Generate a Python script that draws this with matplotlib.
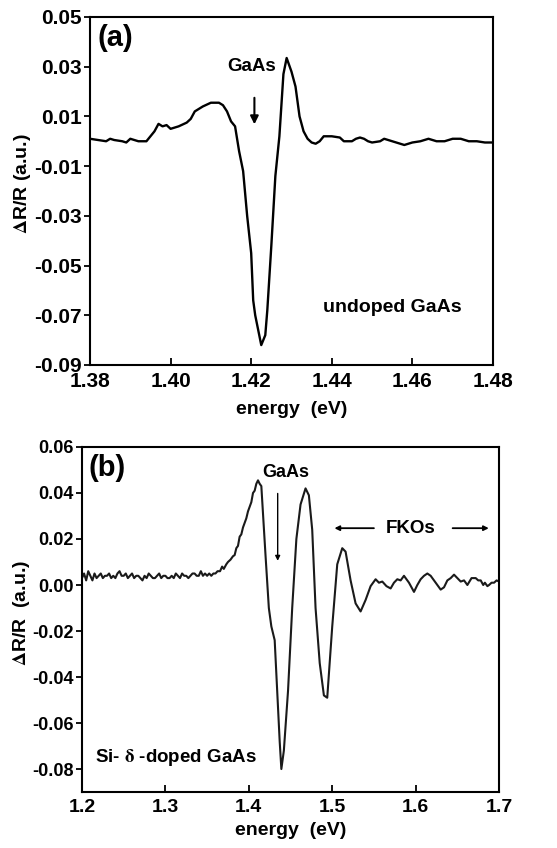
import numpy as np
import matplotlib.pyplot as plt

plt.rcParams['font.family'] = ['Liberation Sans', 'DejaVu Sans']
plt.rcParams['font.weight'] = 'bold'
plt.rcParams['mathtext.fontset'] = 'stix'

# panel (a): undoped GaAs
energy_a = [1.380, 1.382, 1.384, 1.385, 1.386, 1.388, 1.389, 1.390, 1.392, 1.394,
            1.395, 1.396, 1.397, 1.398, 1.399, 1.400, 1.402, 1.404, 1.405, 1.406,
            1.408, 1.410, 1.412, 1.413, 1.414, 1.415, 1.416, 1.417, 1.418, 1.419,
            1.420, 1.4205, 1.421, 1.422, 1.4225, 1.4235, 1.424, 1.425, 1.426, 1.427,
            1.428, 1.4288, 1.430, 1.431, 1.432, 1.433, 1.434, 1.435, 1.436, 1.437,
            1.438, 1.440, 1.442, 1.443, 1.445, 1.446, 1.447, 1.448, 1.449, 1.450,
            1.452, 1.453, 1.455, 1.456, 1.458, 1.460, 1.462, 1.464, 1.466, 1.468,
            1.470, 1.472, 1.474, 1.476, 1.478, 1.480]
dr_a = [0.001, 0.0005, 0.000, 0.001, 0.0005, 0.000, -0.0005, 0.001, 0.000, 0.000,
        0.002, 0.004, 0.007, 0.006, 0.0065, 0.005, 0.006, 0.0075, 0.009, 0.012,
        0.014, 0.0155, 0.0155, 0.0145, 0.012, 0.008, 0.006, -0.004, -0.012, -0.030,
        -0.045, -0.064, -0.070, -0.078, -0.0820, -0.078, -0.068, -0.042, -0.014, 0.002,
        0.027, 0.0335, 0.028, 0.022, 0.010, 0.004, 0.001, -0.0005, -0.001, 0.000,
        0.002, 0.002, 0.0015, 0.000, 0.000, 0.001, 0.0015, 0.001, 0.000, -0.0005,
        0.000, 0.001, 0.000, -0.0005, -0.0015, -0.0005, 0.000, 0.001, 0.000, 0.000,
        0.001, 0.001, 0.000, 0.000, -0.0005, -0.0005]

# panel (b): Si-delta-doped GaAs
energy_b = [1.2000, 1.2025, 1.2050, 1.2075, 1.2100, 1.2125, 1.2150, 1.2175, 1.2200, 1.2225,
            1.2250, 1.2275, 1.2300, 1.2325, 1.2350, 1.2375, 1.2400, 1.2425, 1.2450, 1.2475,
            1.2500, 1.2525, 1.2550, 1.2575, 1.2600, 1.2625, 1.2650, 1.2675, 1.2700, 1.2725,
            1.2750, 1.2775, 1.2800, 1.2825, 1.2850, 1.2875, 1.2900, 1.2925, 1.2950, 1.2975,
            1.3000, 1.3025, 1.3050, 1.3075, 1.3100, 1.3125, 1.3150, 1.3175, 1.3200, 1.3225,
            1.3250, 1.3275, 1.3300, 1.3325, 1.3350, 1.3375, 1.3400, 1.3425, 1.3450, 1.3475,
            1.3500, 1.3525, 1.3550, 1.3575, 1.3600, 1.3625, 1.3655, 1.368, 1.370, 1.373,
            1.375, 1.378, 1.381, 1.383, 1.385, 1.387, 1.389, 1.391, 1.393, 1.395,
            1.397, 1.399, 1.401, 1.403, 1.405, 1.407, 1.409, 1.411, 1.413, 1.415,
            1.420, 1.424, 1.427, 1.431, 1.434, 1.437, 1.439, 1.442, 1.447, 1.452,
            1.457, 1.462, 1.468, 1.472, 1.476, 1.480, 1.485, 1.490, 1.494, 1.500,
            1.506, 1.512, 1.516, 1.522, 1.528, 1.534, 1.540, 1.546, 1.552, 1.556,
            1.560, 1.565, 1.570, 1.574, 1.578, 1.582, 1.586, 1.592, 1.598, 1.602,
            1.606, 1.610, 1.614, 1.618, 1.622, 1.626, 1.630, 1.634, 1.638, 1.642,
            1.646, 1.650, 1.654, 1.658, 1.662, 1.667, 1.672, 1.675, 1.678, 1.681,
            1.683, 1.686, 1.688, 1.691, 1.694, 1.697, 1.700]
dr_b = [0.003, 0.005, 0.002, 0.006, 0.004, 0.002, 0.005, 0.003, 0.004, 0.005,
        0.003, 0.004, 0.004, 0.005, 0.003, 0.004, 0.003, 0.005, 0.006, 0.004,
        0.004, 0.005, 0.003, 0.004, 0.005, 0.003, 0.004, 0.004, 0.003, 0.002,
        0.004, 0.003, 0.005, 0.004, 0.003, 0.003, 0.004, 0.005, 0.003, 0.004,
        0.004, 0.003, 0.003, 0.004, 0.003, 0.005, 0.004, 0.003, 0.005, 0.004,
        0.004, 0.003, 0.004, 0.005, 0.005, 0.004, 0.004, 0.006, 0.004, 0.005,
        0.004, 0.005, 0.004, 0.005, 0.005, 0.006, 0.006, 0.008, 0.007, 0.009,
        0.010, 0.011, 0.0125, 0.013, 0.016, 0.017, 0.021, 0.022, 0.025, 0.027,
        0.029, 0.032, 0.034, 0.036, 0.040, 0.041, 0.044, 0.0455, 0.044, 0.043,
        0.013, -0.010, -0.018, -0.024, -0.046, -0.068, -0.080, -0.072, -0.046, -0.010,
        0.020, 0.035, 0.042, 0.039, 0.024, -0.010, -0.034, -0.048, -0.049, -0.018,
        0.009, 0.016, 0.0145, 0.002, -0.008, -0.0115, -0.0065, -0.0005, 0.0025, 0.001,
        0.0015, -0.0005, -0.0015, 0.001, 0.0025, 0.002, 0.004, 0.001, -0.003, 0.000,
        0.0025, 0.004, 0.005, 0.004, 0.002, 0.000, -0.002, -0.001, 0.002, 0.003,
        0.0045, 0.003, 0.0015, 0.002, 0.000, 0.003, 0.003, 0.002, 0.002, 0.000,
        0.001, -0.0005, 0.000, 0.001, 0.001, 0.002, 0.0015]

xticks_a = [1.38, 1.40, 1.42, 1.44, 1.46, 1.48]
yticks_a = [-0.09, -0.07, -0.05, -0.03, -0.01, 0.01, 0.03, 0.05]
xticks_b = [1.2, 1.3, 1.4, 1.5, 1.6, 1.7]
yticks_b = [-0.08, -0.06, -0.04, -0.02, 0.00, 0.02, 0.04, 0.06]

fig = plt.figure(figsize=(5.57, 8.48), dpi=100)
ax1 = fig.add_axes([0.1616, 0.5696, 0.7234, 0.4104])
ax2 = fig.add_axes([0.1472, 0.066, 0.7488, 0.4069])


def style(ax, xsize, ysize):
    for s in ax.spines.values():
        s.set_linewidth(1.5)
    ax.tick_params(axis='x', direction='in', length=5, width=1.3, labelsize=xsize, pad=5)
    ax.tick_params(axis='y', direction='out', length=4, width=1.3, labelsize=ysize, pad=2)
    for lab in ax.get_xticklabels() + ax.get_yticklabels():
        lab.set_fontweight('bold')


ax1.plot(energy_a, dr_a, color='black', lw=1.7)
ax1.set_xlim(1.38, 1.48)
ax1.set_ylim(-0.09, 0.05)
ax1.set_xticks(xticks_a)
ax1.set_xticklabels(['%.2f' % v for v in xticks_a])
ax1.set_yticks(yticks_a)
ax1.set_yticklabels(['%.2f' % v for v in yticks_a])
style(ax1, 15, 15)
ax1.set_xlabel('energy  (eV)', fontsize=14, fontweight='bold', labelpad=7)
ax1.set_ylabel(r'$\Delta$R/R (a.u.)', fontsize=14, fontweight='bold')
ax1.yaxis.set_label_coords(-0.142, 0.52)
ax1.text(0.018, 0.94, '(a)', transform=ax1.transAxes, fontsize=21, fontweight='bold',
         va='center', ha='left')
ax1.text(1.420, 0.030, 'GaAs', fontsize=13.5, fontweight='bold', ha='center', va='center')
ax1.annotate('', xy=(1.4208, 0.0057), xytext=(1.4208, 0.0186),
             arrowprops=dict(arrowstyle='-|>', lw=1.5, color='black', mutation_scale=12))
ax1.text(1.455, -0.067, 'undoped GaAs', fontsize=14, fontweight='bold', ha='center', va='center')

ax2.plot(energy_b, dr_b, color='#1a1a1a', lw=1.5)
ax2.set_xlim(1.2, 1.7)
ax2.set_ylim(-0.09, 0.06)
ax2.set_xticks(xticks_b)
ax2.set_xticklabels(['%.1f' % v for v in xticks_b])
ax2.set_yticks(yticks_b)
ax2.set_yticklabels(['%.2f' % v for v in yticks_b])
style(ax2, 14, 13)
ax2.set_xlabel('energy  (eV)', fontsize=14, fontweight='bold', labelpad=4)
ax2.set_ylabel(r'$\Delta$R/R  (a.u.)', fontsize=14, fontweight='bold')
ax2.yaxis.set_label_coords(-0.12, 0.52)
ax2.text(0.015, 0.94, '(b)', transform=ax2.transAxes, fontsize=21, fontweight='bold',
         va='center', ha='left')
ax2.text(1.4446, 0.049, 'GaAs', fontsize=13, fontweight='bold', ha='center', va='center')
ax2.annotate('', xy=(1.4346, 0.0093), xytext=(1.4346, 0.041),
             arrowprops=dict(arrowstyle='-|>', lw=1.0, color='black', mutation_scale=7))
ax2.text(1.594, 0.0247, 'FKOs', fontsize=13.5, fontweight='bold', ha='center', va='center')
ax2.annotate('', xy=(1.4993, 0.0247), xytext=(1.5533, 0.0247),
             arrowprops=dict(arrowstyle='-|>', lw=1.3, color='black', mutation_scale=7))
ax2.annotate('', xy=(1.691, 0.0247), xytext=(1.641, 0.0247),
             arrowprops=dict(arrowstyle='-|>', lw=1.3, color='black', mutation_scale=7))
ax2.text(1.2156, -0.075, r'Si- $\mathrm{\delta}$ -doped GaAs', fontsize=13.5, fontweight='bold',
         ha='left', va='center')

fig.savefig('out.png', dpi=100)
